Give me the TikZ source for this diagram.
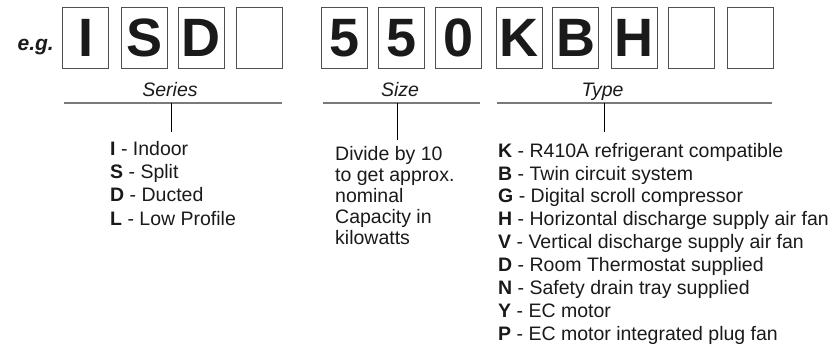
\documentclass[tikz,border=0pt]{standalone}
\usepackage{fontspec}
\setmainfont{Liberation Sans}
\definecolor{boxgray}{HTML}{505050}
\definecolor{bargray}{HTML}{7A7A7A}
\definecolor{ink}{HTML}{1A1A1A}
\begin{document}
\begin{tikzpicture}[x=1pt,y=-1pt,
  charbox/.style={draw=boxgray, line width=0.9pt, minimum width=46pt, minimum height=61pt,
    inner sep=0pt, anchor=north west, text=ink, font=\fontsize{54}{54}\selectfont\bfseries},
  lbl/.style={font=\fontsize{19.5}{23}\selectfont\itshape, anchor=base, inner sep=0pt, text=ink},
  item/.style={font=\fontsize{19.5}{23}\selectfont, anchor=base west, inner sep=0pt, text=ink},
  bar/.style={draw=bargray, line width=1.8pt},
  tickline/.style={draw=black, line width=0.9pt}]
\useasboundingbox (0,0) rectangle (839,354);

% e.g.
\node[font=\fontsize{21}{24}\selectfont\bfseries\itshape, anchor=base east, inner sep=0pt, text=ink] (eg) at (54,50) {e.g.};

% character boxes
\node[charbox] (b1) at (62.3,7.3) {I};
\node[charbox] (b2) at (121,7.3) {S};
\node[charbox] (b3) at (177.7,7.3) {D};
\node[charbox] (b4) at (236.3,7.3) {};
\node[charbox] (b5) at (321,7.3) {5};
\node[charbox] (b6) at (377.7,7.3) {5};
\node[charbox] (b7) at (435,7.3) {0};
\node[charbox] (b8) at (495.7,7.3) {K};
\node[charbox] (b9) at (552.3,7.3) {B};
\node[charbox] (b10) at (610.7,7.3) {H};
\node[charbox] (b11) at (668,7.3) {};
\node[charbox] (b12) at (726.7,7.3) {};

% group labels
\node[lbl] (series) at (170,96.7) {Series};
\node[lbl] (size) at (400,96.7) {Size};
\node[lbl] (type) at (602.5,96.7) {Type};

% bars
\coordinate (serL) at (64,103);
\coordinate (serR) at (282,103);
\coordinate (sizL) at (322.5,103);
\coordinate (sizR) at (480,103);
\coordinate (typL) at (497,103);
\coordinate (typR) at (771.7,103);
\draw[bar] (serL) -- (serR);
\draw[bar] (sizL) -- (sizR);
\draw[bar] (typL) -- (typR);

% ticks
\coordinate (serT) at (171.7,103);
\coordinate (serB) at (171.7,131.7);
\coordinate (sizT) at (397.3,103);
\coordinate (sizB) at (397.3,140);
\coordinate (typT) at (604,103);
\coordinate (typB) at (604,131.7);
\draw[tickline] (serT) -- (serB);
\draw[tickline] (sizT) -- (sizB);
\draw[tickline] (typT) -- (typB);

% series list
\node[item] (s1) at (110,155) {\textbf{I} - Indoor};
\node[item] (s2) at (110,178.3) {\textbf{S} - Split};
\node[item] (s3) at (110,201.7) {\textbf{D} - Ducted};
\node[item] (s4) at (110,225) {\textbf{L} - Low Profile};

% size text
\node[item] (z1) at (335,160) {Divide by 10};
\node[item] (z2) at (335,181.1) {to get approx.};
\node[item] (z3) at (335,202.2) {nominal};
\node[item] (z4) at (335,223.2) {Capacity in};
\node[item] (z5) at (335,244.3) {kilowatts};

% type list
\node[item] (t1) at (498,157.3) {\textbf{K} - R410A refrigerant compatible};
\node[item] (t2) at (498,180.14) {\textbf{B} - Twin circuit system};
\node[item] (t3) at (498,202.98) {\textbf{G} - Digital scroll compressor};
\node[item] (t4) at (498,225.82) {\textbf{H} - Horizontal discharge supply air fan};
\node[item] (t5) at (498,248.66) {\textbf{V} - Vertical discharge supply air fan};
\node[item] (t6) at (498,271.5) {\textbf{D} - Room Thermostat supplied};
\node[item] (t7) at (498,294.34) {\textbf{N} - Safety drain tray supplied};
\node[item] (t8) at (498,317.18) {\textbf{Y} - EC motor};
\node[item] (t9) at (498,340) {\textbf{P} - EC motor integrated plug fan};
\end{tikzpicture}
\end{document}
